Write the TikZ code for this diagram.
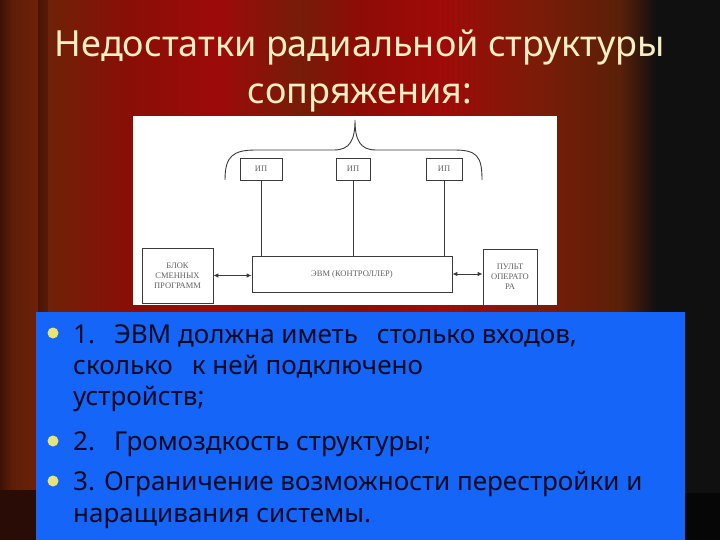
\documentclass[tikz,border=0pt]{standalone}
\usepackage{fontspec}
\setmainfont{Noto Sans}
\newfontfamily\scanfont{Liberation Serif}
\usetikzlibrary{arrows.meta}

\definecolor{titlecol}{HTML}{F6EEC4}
\definecolor{bluebox}{HTML}{1565F8}
\definecolor{bulcol}{HTML}{E6E678}
\definecolor{inkcol}{HTML}{0A0A22}
\definecolor{scanink}{HTML}{3A3A3A}
% curtain colours
\definecolor{cur0}{RGB}{60,18,6}
\definecolor{cur1}{RGB}{92,30,8}
\definecolor{cur2}{RGB}{110,34,8}
\definecolor{cur3}{RGB}{74,21,6}
\definecolor{cur4}{RGB}{90,26,6}
\definecolor{cur5}{RGB}{138,14,6}
\definecolor{cur6}{RGB}{158,10,10}
\definecolor{cur7}{RGB}{118,28,8}
\definecolor{cur8}{RGB}{142,12,6}
\definecolor{cur9}{RGB}{160,10,8}
\definecolor{cur10}{RGB}{122,28,8}
\definecolor{cur11}{RGB}{90,32,8}
\definecolor{cur12}{RGB}{16,16,16}
\definecolor{hemleft}{RGB}{42,12,6}
\definecolor{hemright}{RGB}{6,6,6}

\newcommand{\wsp}{\hspace{19pt}}

\tikzset{
  band/.style={draw=none},
  ttl/.style={text=titlecol,font=\fontsize{36}{36}\selectfont,anchor=base,inner sep=0pt},
  txt/.style={text=inkcol,font=\fontsize{26}{26}\selectfont,anchor=base west,inner sep=0pt},
  bul/.style={circle,fill=bulcol,draw=none,minimum size=11pt,inner sep=0pt},
  blk/.style={draw=scanink,line width=0.8pt,fill=white,align=center,inner sep=1pt,
    text=scanink!80,font=\scanfont\fontsize{8.5}{10}\selectfont},
  wire/.style={draw=scanink,line width=0.9pt},
  dbl/.style={wire,{Latex[length=5pt,width=4.5pt]}-{Latex[length=5pt,width=4.5pt]}}
}

\begin{document}
\begin{tikzpicture}[x=1pt,y=-1pt]
  \useasboundingbox (0,0) rectangle (720,540);

  % curtain in the background
  \shade[band,left color=cur0,right color=cur1] (0,0) rectangle (12,540);
  \shade[band,left color=cur1,right color=cur2] (12,0) rectangle (38,540);
  \shade[band,left color=cur3,right color=cur4] (38,0) rectangle (48,540);
  \shade[band,left color=cur2,right color=cur5] (48,0) rectangle (130,540);
  \shade[band,left color=cur5,right color=cur6] (130,0) rectangle (220,540);
  \shade[band,left color=cur6,right color=cur7] (220,0) rectangle (300,540);
  \shade[band,left color=cur7,right color=cur8] (300,0) rectangle (360,540);
  \shade[band,left color=cur8,right color=cur9] (360,0) rectangle (440,540);
  \shade[band,left color=cur9,right color=cur10] (440,0) rectangle (540,540);
  \shade[band,left color=cur10,right color=cur11] (540,0) rectangle (620,540);
  \shade[band,left color=cur11,right color=cur12] (620,0) rectangle (656,540);
  \fill[cur12] (656,0) rectangle (720,540);
  % curtain hems
  \fill[hemleft] (0,490) rectangle (36,540);
  \fill[hemright] (685,493) rectangle (720,540);

  % title
  \node[ttl] (title1) at (360,57) {Недостатки радиальной структуры};
  \node[ttl] (title2) at (360,104) {сопряжения:};

  % scanned scheme
  \fill[white] (133,116) rectangle (557,305);

  \node[blk,minimum width=42pt,minimum height=22pt] (ip1) at (261,169) {ИП};
  \node[blk,minimum width=34pt,minimum height=22pt] (ip2) at (353,169) {ИП};
  \node[blk,minimum width=36pt,minimum height=22pt] (ip3) at (444,169) {ИП};
  \node[blk,minimum width=200pt,minimum height=36pt] (evm) at (352,274) {ЭВМ (КОНТРОЛЛЕР)};
  \node[blk,minimum width=71pt,minimum height=55pt] (prog) at (177.5,275.5) {БЛОК\\СМЕННЫХ\\ПРОГРАММ};
  \node[blk,minimum width=54pt,minimum height=56pt] (pult) at (510,277) {ПУЛЬТ\\ОПЕРАТО\\РА};

  % brace over the devices
  \draw[wire] (225,180) .. controls (225,156) and (233,150) .. (256,150) -- (334,150)
    .. controls (350,150) and (355,140) .. (355,120)
    .. controls (355,140) and (360,150) .. (376,150) -- (454,150)
    .. controls (477,150) and (482,156) .. (482,180);

  % radial links
  \draw[wire] (ip1) -- (ip1 |- evm.north);
  \draw[wire] (ip2) -- (ip2 |- evm.north);
  \draw[wire] (ip3) -- (ip3 |- evm.north);
  \draw[dbl] (prog.east) -- (prog.east -| evm.west);
  \draw[dbl] (evm.east) -- (evm.east -| pult.west);

  % list of drawbacks
  \fill[bluebox] (36,312) rectangle (685,540);
  \node[bul] (b1) at (53,333) {};
  \node[bul] (b2) at (53,441) {};
  \node[bul] (b3) at (53,481) {};
  \node[txt] (l1a) at (73,343) {1.\wsp ЭВМ должна иметь\wsp столько входов,};
  \node[txt] (l1b) at (73,374) {сколько\wsp к ней подключено};
  \node[txt] (l1c) at (73,405) {устройств;};
  \node[txt] (l2)  at (73,450) {2.\wsp Громоздкость структуры;};
  \node[txt] (l3a) at (73,490) {3. Ограничение возможности перестройки и};
  \node[txt] (l3b) at (73,522) {наращивания системы.};
\end{tikzpicture}
\end{document}
